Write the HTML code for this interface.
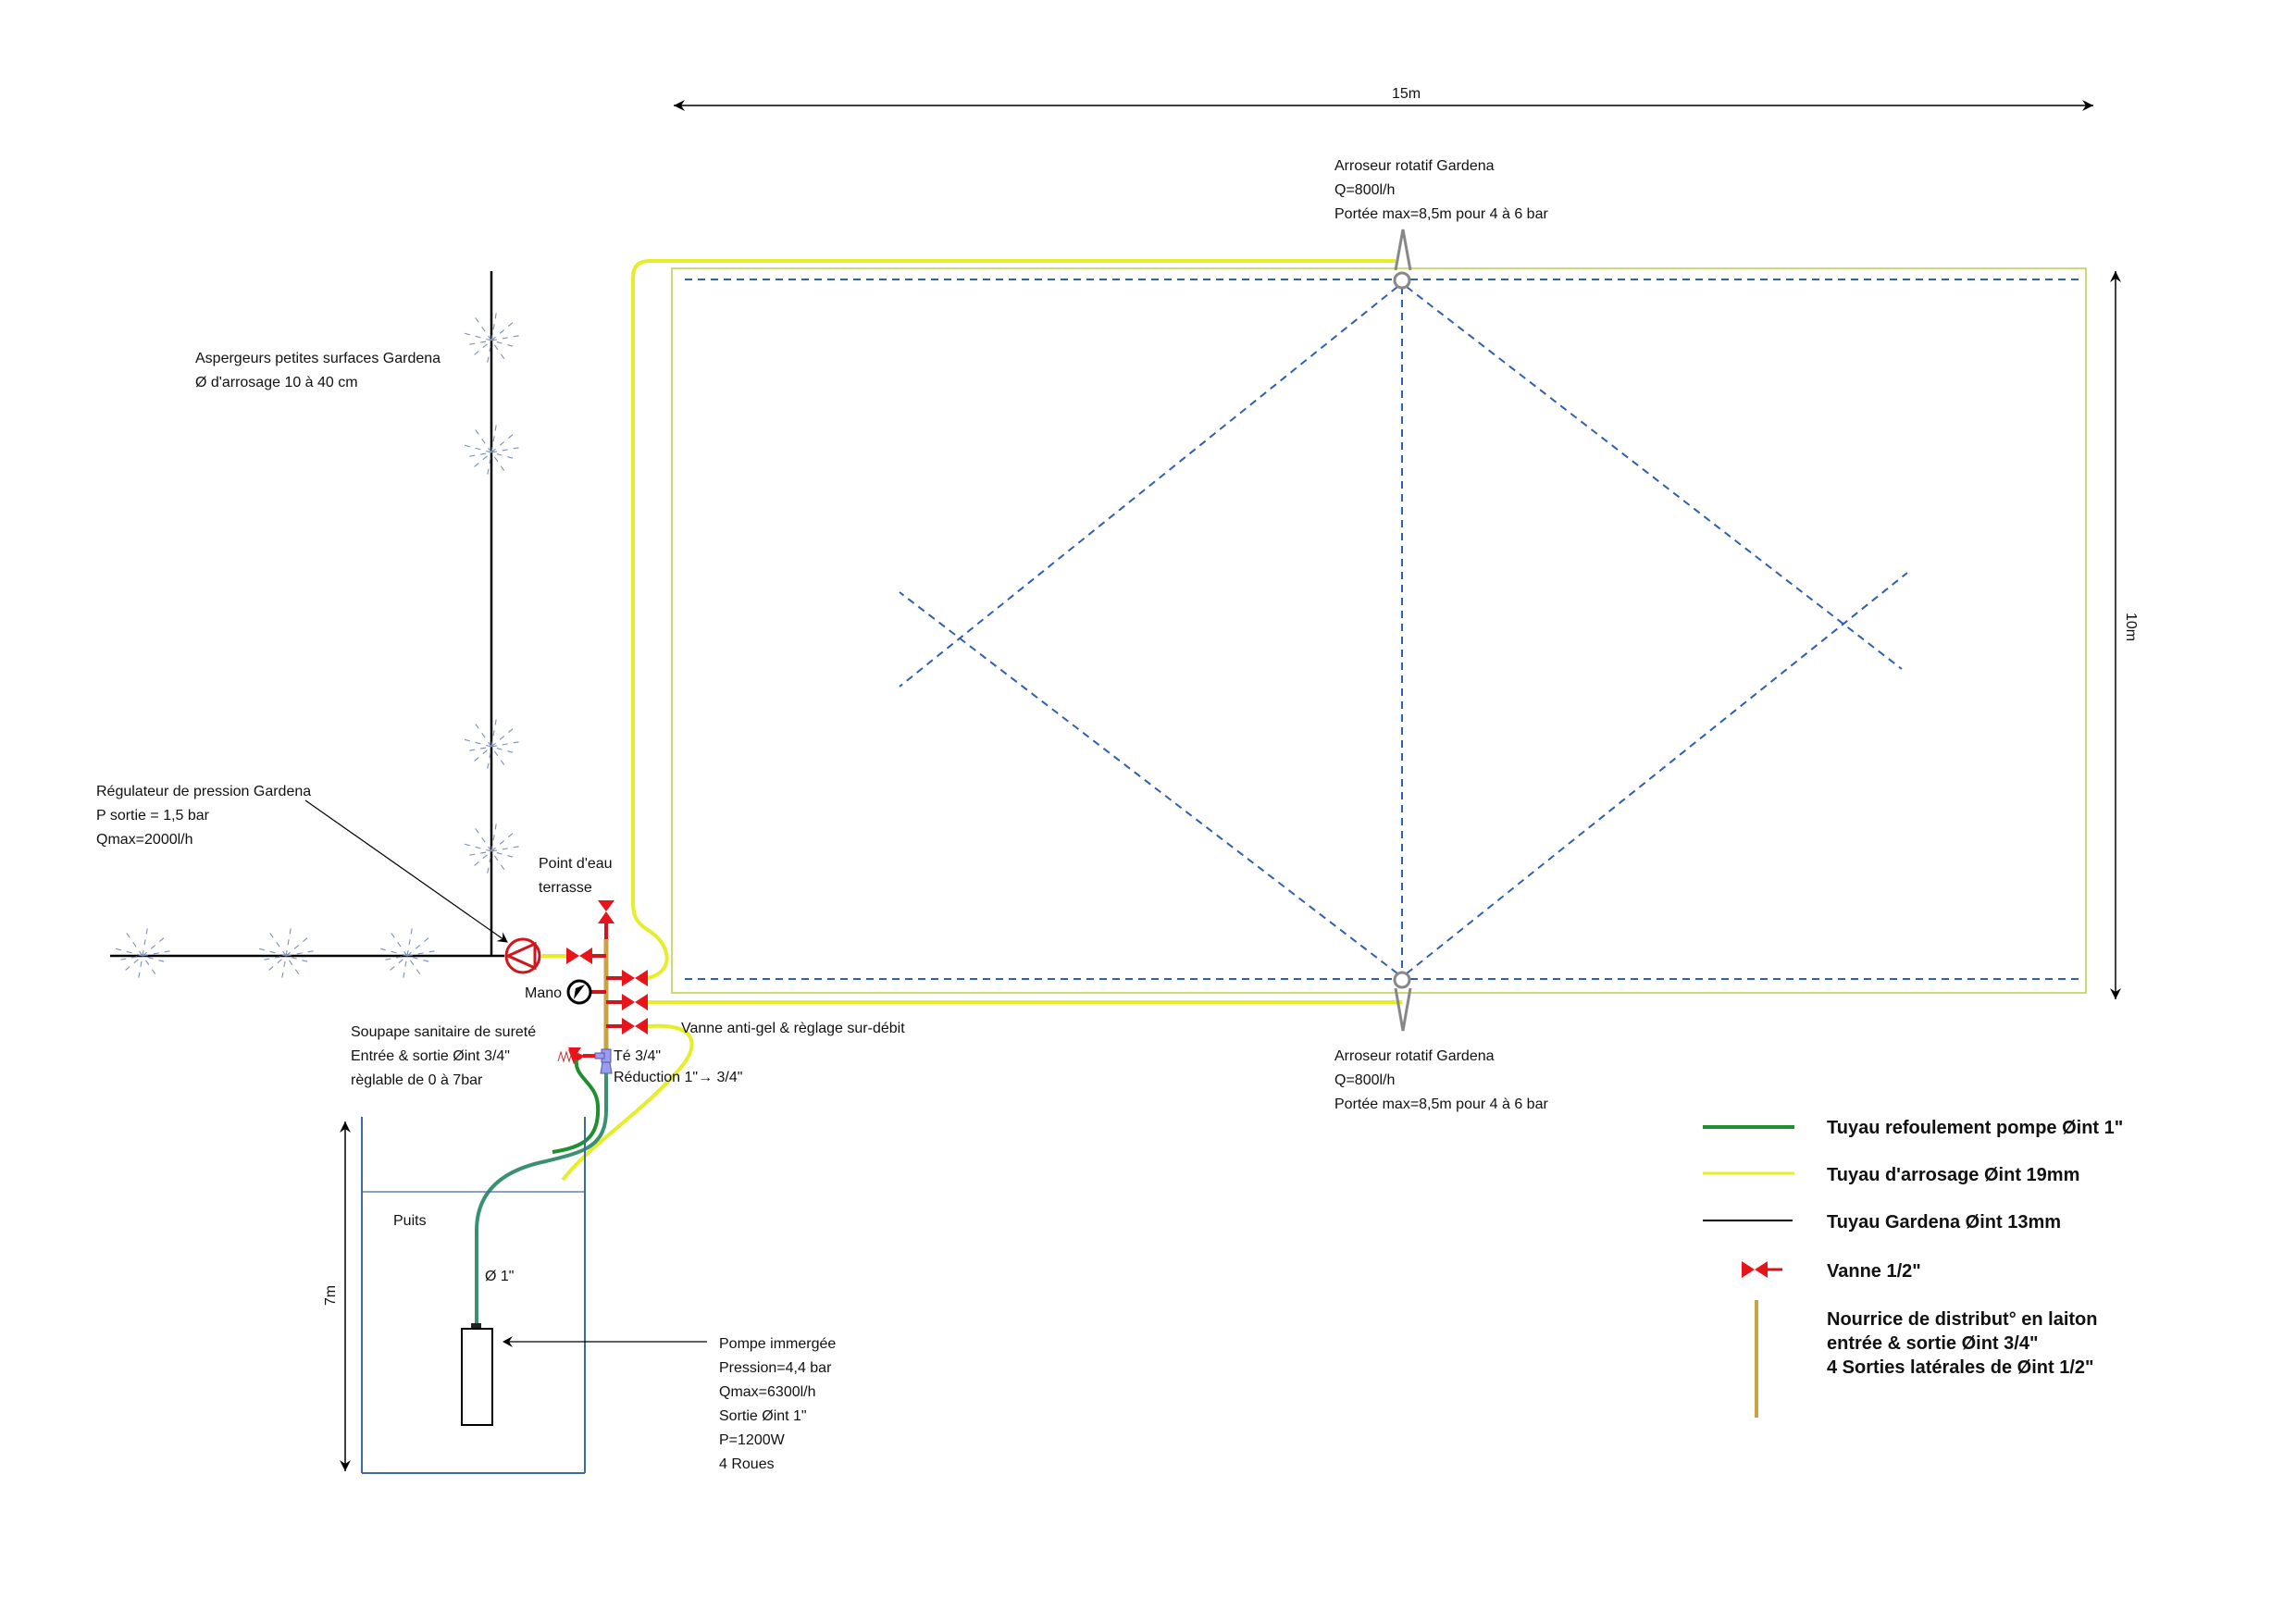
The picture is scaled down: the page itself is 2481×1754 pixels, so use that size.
<!DOCTYPE html>
<html><head><meta charset="utf-8"><style>
html,body{margin:0;padding:0;background:#fff;}
svg{display:block;}
text{font-family:"Liberation Sans",sans-serif;font-size:16px;fill:#111;}
.b{font-weight:bold;font-size:20px;}
</style></head><body>
<svg width="2481" height="1754" viewBox="0 0 2481 1754" xmlns="http://www.w3.org/2000/svg">
<defs>
<marker id="ah" markerWidth="12" markerHeight="12" refX="10" refY="6" orient="auto" markerUnits="userSpaceOnUse"><path d="M0,0 L11,6 L0,12 L4,6 Z" fill="#000"/></marker>
<marker id="ahs" markerWidth="14" markerHeight="14" refX="12" refY="7" orient="auto-start-reverse" markerUnits="userSpaceOnUse"><path d="M0,1 L12,7 L0,13 L4,7 Z" fill="#000"/></marker>
<g id="star" stroke="#7d8fb8" stroke-width="1.1" stroke-dasharray="6,6" fill="none">
<line x1="-30" y1="0" x2="30" y2="0" transform="rotate(15)"/>
<line x1="-30" y1="0" x2="30" y2="0" transform="rotate(55)"/>
<line x1="-30" y1="0" x2="30" y2="0" transform="rotate(100)"/>
<line x1="-30" y1="0" x2="30" y2="0" transform="rotate(140)"/>
<line x1="-30" y1="0" x2="30" y2="0" transform="rotate(170)"/>
</g>
<g id="vh"><path d="M0,-9 L14,0 L0,9 Z M28,-9 L14,0 L28,9 Z" fill="#e8141b"/></g>
</defs>

<line x1="728" y1="114" x2="2262" y2="114" stroke="#000" stroke-width="1.5" marker-start="url(#ahs)" marker-end="url(#ahs)"/>
<text x="1504" y="106">15m</text>
<line x1="2286" y1="293" x2="2286" y2="1080" stroke="#000" stroke-width="1.5" marker-start="url(#ahs)" marker-end="url(#ahs)"/>
<text x="2298" y="662" transform="rotate(90 2298 662)">10m</text>

<rect x="726" y="290" width="1528" height="783" fill="none" stroke="#b9d14a" stroke-width="1.5"/>
<g stroke="#2f5fb0" stroke-width="2" stroke-dasharray="8,6" fill="none">
<line x1="740" y1="302" x2="1507" y2="302"/><line x1="1524" y1="302" x2="2248" y2="302"/>
<line x1="740" y1="1058" x2="1507" y2="1058"/><line x1="1524" y1="1058" x2="2248" y2="1058"/>
<line x1="1515" y1="310" x2="1515" y2="1052"/>
<line x1="1510" y1="310" x2="972" y2="742"/>
<line x1="1510" y1="1052" x2="972" y2="640"/>
<line x1="1520" y1="310" x2="2055" y2="723"/>
<line x1="1520" y1="1052" x2="2061" y2="619"/>
</g>

<g stroke="#e6ee2a" stroke-width="4" fill="none">
<path d="M700,1057 C730,1050 725,1020 700,1005 C684,995 684,985 684,970 L684,300 Q684,282 702,282 L1508,282"/>
<line x1="700" y1="1083" x2="1515" y2="1083"/>
<path d="M700,1109 C760,1105 755,1135 730,1160 C690,1205 640,1235 608,1275"/>
<line x1="586" y1="1033" x2="612" y2="1033"/>
</g>

<g stroke="#888" stroke-width="3" fill="#fff">
<path d="M1508,292 L1516,248 L1524,292" fill="none"/>
<circle cx="1515" cy="303" r="8"/>
<path d="M1508,1068 L1516,1114 L1524,1068" fill="none"/>
<circle cx="1515" cy="1059" r="8"/>
</g>
<text x="1442" y="184">Arroseur rotatif Gardena</text>
<text x="1442" y="210">Q=800l/h</text>
<text x="1442" y="236">Portée max=8,5m pour 4 à 6 bar</text>
<text x="1442" y="1146">Arroseur rotatif Gardena</text>
<text x="1442" y="1172">Q=800l/h</text>
<text x="1442" y="1198">Portée max=8,5m pour 4 à 6 bar</text>

<line x1="531" y1="293" x2="531" y2="1033" stroke="#000" stroke-width="2.5"/>
<line x1="119" y1="1033" x2="545" y2="1033" stroke="#000" stroke-width="2.5"/>
<use href="#star" x="531" y="368"/><use href="#star" x="531" y="489"/>
<use href="#star" x="531" y="807"/><use href="#star" x="531" y="920"/>
<use href="#star" x="154" y="1033"/><use href="#star" x="309" y="1033"/><use href="#star" x="440" y="1033"/>
<text x="211" y="392">Aspergeurs petites surfaces Gardena</text>
<text x="211" y="418">Ø d'arrosage 10 à 40 cm</text>

<text x="104" y="860">Régulateur de pression Gardena</text>
<text x="104" y="886">P sortie = 1,5 bar</text>
<text x="104" y="912">Qmax=2000l/h</text>
<line x1="330" y1="865" x2="548" y2="1018" stroke="#000" stroke-width="1.2" marker-end="url(#ah)"/>
<circle cx="565" cy="1033" r="18" fill="#fff" stroke="#d0161d" stroke-width="3"/>
<path d="M578,1020 L549,1033 L578,1046 Z" fill="none" stroke="#d0161d" stroke-width="3"/>

<line x1="655" y1="1015" x2="655" y2="1135" stroke="#c9a445" stroke-width="5"/>
<line x1="655" y1="995" x2="655" y2="1015" stroke="#d0161d" stroke-width="4"/>
<path d="M646,973 L664,973 L655,985 Z M646,998 L664,998 L655,985 Z" fill="#e8141b"/>
<line x1="640" y1="1033" x2="655" y2="1033" stroke="#d0161d" stroke-width="4"/>
<use href="#vh" x="612" y="1033"/>
<line x1="637" y1="1072" x2="655" y2="1072" stroke="#d0161d" stroke-width="4"/>
<circle cx="626" cy="1072" r="12" fill="#fff" stroke="#000" stroke-width="3"/>
<path d="M620,1080 L632,1064 L622,1068 Z" fill="#000"/>
<text x="567" y="1078">Mano</text>
<g stroke="#d0161d" stroke-width="4">
<line x1="655" y1="1057" x2="672" y2="1057"/><line x1="655" y1="1083" x2="672" y2="1083"/><line x1="655" y1="1109" x2="672" y2="1109"/>
</g>
<use href="#vh" x="672" y="1057"/><use href="#vh" x="672" y="1083"/><use href="#vh" x="672" y="1109"/>
<text x="582" y="938">Point d'eau</text>
<text x="582" y="964">terrasse</text>
<text x="736" y="1116">Vanne anti-gel &amp; règlage sur-débit</text>

<rect x="650" y="1134" width="10" height="14" fill="#9a9cf0" stroke="#5555aa"/>
<rect x="643" y="1138" width="10" height="6" fill="#9a9cf0" stroke="#5555aa"/>
<path d="M651,1148 L659,1148 L661,1160 L649,1160 Z" fill="#9a9cf0" stroke="#5555aa"/>
<line x1="630" y1="1141" x2="643" y2="1141" stroke="#e8141b" stroke-width="4"/>
<path d="M614,1134 L632,1141 L620,1150 Z" fill="#e8141b"/>
<path d="M614,1132 L628,1132 L620,1144 Z" fill="#e8141b"/>
<path d="M603,1147 L606,1137 L609,1147 L612,1137 L615,1147 L618,1137" fill="none" stroke="#c03030" stroke-width="1"/>
<text x="663" y="1146">Té 3/4"</text>
<text x="663" y="1169">Réduction 1"→ 3/4"</text>
<text x="379" y="1120">Soupape sanitaire de sureté</text>
<text x="379" y="1146">Entrée &amp; sortie Øint 3/4"</text>
<text x="379" y="1172">règlable de 0 à 7bar</text>

<path d="M655,1160 L655,1200 C655,1240 630,1245 590,1255 C540,1265 515,1290 515,1330 L515,1434" fill="none" stroke="#3a9070" stroke-width="4"/>
<path d="M623,1145 C620,1165 645,1170 646,1195 C648,1230 630,1240 597,1245" fill="none" stroke="#1f8f2f" stroke-width="4"/>
<rect x="509" y="1430" width="11" height="7" fill="#222"/>
<rect x="499" y="1436" width="33" height="104" fill="#fff" stroke="#000" stroke-width="2"/>

<g stroke="#3d6aa5" stroke-width="2" fill="none">
<line x1="391" y1="1207" x2="391" y2="1592"/><line x1="632" y1="1207" x2="632" y2="1592"/>
<line x1="391" y1="1592" x2="632" y2="1592"/>
<line x1="391" y1="1288" x2="632" y2="1288" stroke-width="1.3"/>
</g>
<line x1="373" y1="1212" x2="373" y2="1590" stroke="#000" stroke-width="1.5" marker-start="url(#ahs)" marker-end="url(#ahs)"/>
<text x="362" y="1400" transform="rotate(-90 362 1400)" text-anchor="middle">7m</text>
<text x="425" y="1324">Puits</text>
<text x="524" y="1384">Ø 1"</text>
<line x1="764" y1="1450" x2="544" y2="1450" stroke="#000" stroke-width="1.2" marker-end="url(#ah)"/>
<text x="777" y="1457">Pompe immergée</text>
<text x="777" y="1483">Pression=4,4 bar</text>
<text x="777" y="1509">Qmax=6300l/h</text>
<text x="777" y="1535">Sortie Øint 1"</text>
<text x="777" y="1561">P=1200W</text>
<text x="777" y="1587">4 Roues</text>

<line x1="1840" y1="1218" x2="1939" y2="1218" stroke="#1f8f2f" stroke-width="4"/>
<line x1="1840" y1="1268" x2="1939" y2="1268" stroke="#e6ee2a" stroke-width="3"/>
<line x1="1840" y1="1319" x2="1937" y2="1319" stroke="#000" stroke-width="2"/>
<use href="#vh" x="1882" y="1372"/>
<line x1="1908" y1="1372" x2="1926" y2="1372" stroke="#d0161d" stroke-width="3"/>
<line x1="1898" y1="1405" x2="1898" y2="1532" stroke="#c9a445" stroke-width="4"/>
<text class="b" x="1974" y="1225">Tuyau refoulement pompe Øint 1"</text>
<text class="b" x="1974" y="1276">Tuyau d'arrosage Øint 19mm</text>
<text class="b" x="1974" y="1327">Tuyau Gardena Øint 13mm</text>
<text class="b" x="1974" y="1380">Vanne 1/2"</text>
<text class="b" x="1974" y="1432">Nourrice de distribut° en laiton</text>
<text class="b" x="1974" y="1458">entrée &amp; sortie Øint 3/4"</text>
<text class="b" x="1974" y="1484">4 Sorties latérales de Øint 1/2"</text>
</svg>
</body></html>
